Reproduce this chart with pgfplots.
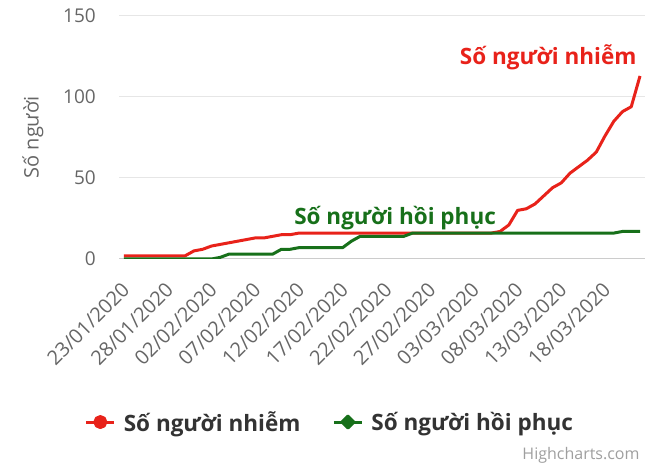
\documentclass[border=0pt]{standalone}
\usepackage{pgfplots}
\pgfplotsset{compat=1.18}
\usepackage{pgfplotstable}
\usepackage{fontspec}
\setmainfont{Open Sans}

\definecolor{infred}{HTML}{E8221A}
\definecolor{recgreen}{HTML}{17701A}
\definecolor{ticktext}{HTML}{666666}
\definecolor{legtext}{HTML}{333333}
\definecolor{gridgray}{HTML}{E6E6E6}
\definecolor{axisgray}{HTML}{CCCCCC}

% day index (0 = 23/01/2020), infected, recovered
\pgfplotstableread{
idx inf rec
0 2 0
1 2 0
2 2 0
3 2 0
4 2 0
5 2 0
6 2 0
7 2 0
8 5 0
9 6 0
10 8 0
11 9 1
12 10 3
13 11 3
14 12 3
15 13 3
16 13 3
17 14 3
18 15 6
19 15 6
20 16 7
21 16 7
22 16 7
23 16 7
24 16 7
25 16 7
26 16 11
27 16 14
28 16 14
29 16 14
30 16 14
31 16 14
32 16 14
33 16 16
34 16 16
35 16 16
36 16 16
37 16 16
38 16 16
39 16 16
40 16 16
41 16 16
42 16 16
43 17 16
44 21 16
45 30 16
46 31 16
47 34 16
48 39 16
49 44 16
50 47 16
51 53 16
52 57 16
53 61 16
54 66 16
55 76 16
56 85 16
57 91 17
58 94 17
59 113 17
}\covid

\begin{document}
\begin{tikzpicture}
\begin{axis}[
    at={(119pt,209pt)}, anchor=south west,
    scale only axis,
    width=526pt, height=243pt,
    xmin=-0.57, xmax=59.57,
    ymin=0, ymax=150,
    xtick={0,5,...,55},
    xticklabels={23/01/2020,28/01/2020,02/02/2020,07/02/2020,12/02/2020,17/02/2020,22/02/2020,27/02/2020,03/03/2020,08/03/2020,13/03/2020,18/03/2020},
    ytick={0,50,100,150},
    major tick length=0pt,
    axis line style={draw=none},
    ymajorgrids=true,
    grid style={gridgray, line width=1pt},
    /pgf/number format/assume math mode=true,
    ticklabel style={font=\fontsize{19}{22}\selectfont, text=ticktext},
    xticklabel style={font=\fontsize{20}{23}\selectfont, rotate=45, anchor=north east, inner sep=0pt, xshift=-18pt, yshift=-13pt},
    yticklabel style={anchor=east, inner sep=0pt, xshift=-23pt},
    ylabel={Số người},
    ylabel style={at={(axis description cs:-0.1635,0.5)}, anchor=center,
        font=\fontsize{20}{23}\selectfont, text=ticktext},
    legend columns=2,
    legend style={at={(axis description cs:0.401,-0.671)}, anchor=center,
        draw=none, fill=none,
        font=\bfseries\fontsize{22.5}{26}\selectfont, text=legtext,
        /tikz/every odd column/.append style={column sep=6pt},
        /tikz/every even column/.append style={column sep=30pt}},
    legend cell align=left,
]
\draw[axisgray, line width=1pt] (axis cs:-0.57,0) -- (axis cs:59.57,0);
\addplot[color=infred, line width=3pt, line join=round, no marks,
    legend image code/.code={
        \draw[infred, line width=3pt] (0pt,0pt) -- (28pt,0pt);
        \fill[infred] (14pt,0pt) circle (5.5pt);}]
    table[x=idx, y=inf] {\covid};
\addplot[color=recgreen, line width=3pt, line join=round, no marks,
    legend image code/.code={
        \draw[recgreen, line width=3pt] (0pt,0pt) -- (28pt,0pt);
        \fill[recgreen] (14pt,6pt) -- (20pt,0pt) -- (14pt,-6pt) -- (8pt,0pt) -- cycle;}]
    table[x=idx, y=rec] {\covid};
\legend{Số người nhiễm, Số người hồi phục}
\node[font=\bfseries\fontsize{22.5}{26}\selectfont, text=infred] at (axis cs:48.5,124.7) {Số người nhiễm};
\node[font=\bfseries\fontsize{22.5}{26}\selectfont, text=recgreen] at (axis cs:31,25.3) {Số người hồi phục};
\end{axis}
\node[anchor=east, font=\fontsize{16}{19}\selectfont, text=gray!75] at (643pt,13pt) {Highcharts.com};
\pgfresetboundingbox
\path (0,0) rectangle (660pt,468pt);
\end{tikzpicture}
\end{document}
